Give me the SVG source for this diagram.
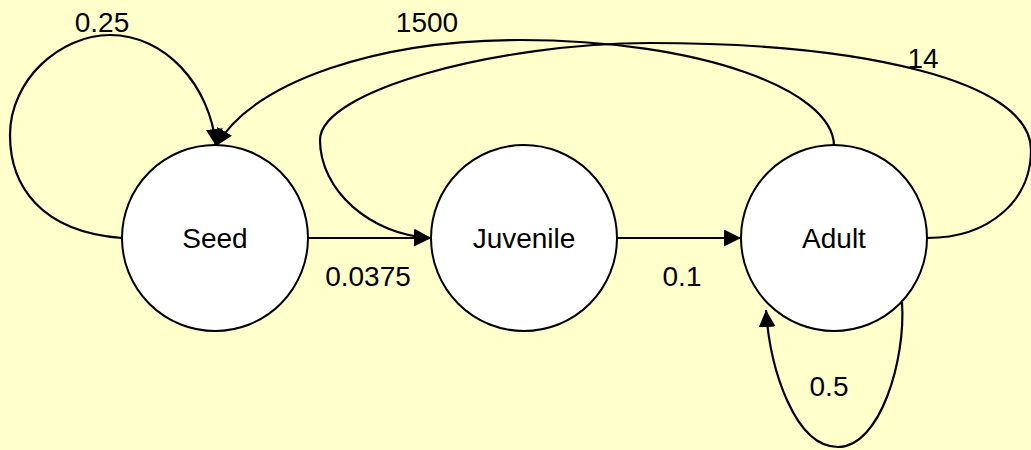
<svg xmlns="http://www.w3.org/2000/svg" width="1031" height="450" viewBox="0 0 1031 450">
<style>
.node{fill:#fff;stroke:#000;stroke-width:2}
.lbl{font-family:"Liberation Sans",Arial,sans-serif;font-size:28px;fill:#000;text-anchor:middle}
.edge{fill:none;stroke:#000;stroke-width:2.2;marker-end:url(#ah)}
</style>
<defs>
<marker id="ah" viewBox="0 0 10 10" refX="10" refY="5" markerWidth="17" markerHeight="17" markerUnits="userSpaceOnUse" orient="auto">
<path d="M0,0 L10,5 L0,10 z" fill="#000"/>
</marker>
</defs>
<rect width="1031" height="450" fill="#FFFFCC"/>
<g id="connectors">
<path class="edge" d="M122,238 C40,232 10,185 10,135 C10,80 60,35 110,35 C165,35 210,85 216,146"/>
<path class="edge" d="M834,146 C834,90 700,40 520,40 C380,40 255,80 216,146"/>
<path class="edge" d="M927,238 C990,238 1031,200 1031,150 C1031,80 860,43 650,43 C500,43 320,90 320,140 C320,190 370,235 431,238"/>
<path class="edge" d="M308,238 L431,238"/>
<path class="edge" d="M617,238 L741,238"/>
<path class="edge" d="M902,302 C906,360 880,447 838,447 C795,447 770,370 766,310"/>
<text class="lbl" x="102" y="32">0.25</text>
<text class="lbl" x="427" y="32">1500</text>
<text class="lbl" x="923" y="68">14</text>
<text class="lbl" x="368" y="286">0.0375</text>
<text class="lbl" x="682" y="286">0.1</text>
<text class="lbl" x="829" y="396">0.5</text>
</g>
<g id="seed"><circle class="node" cx="215" cy="238" r="93"/><text class="lbl" x="215" y="248">Seed</text></g>
<g id="juvenile"><circle class="node" cx="524" cy="238" r="93"/><text class="lbl" x="524" y="248">Juvenile</text></g>
<g id="adult"><circle class="node" cx="834" cy="238" r="93"/><text class="lbl" x="834" y="248">Adult</text></g>
</svg>
